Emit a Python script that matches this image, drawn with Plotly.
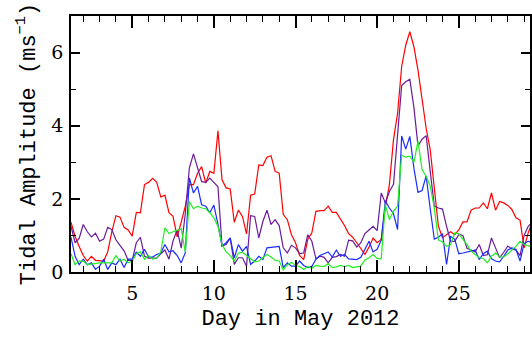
import plotly.graph_objects as go

# Sampling: every 0.25 day starting at day 1.25
day_start = 1.25
day_step = 0.25

red = [1.36, 0.97, 0.7, 0.45, 0.3, 0.43, 0.32, 0.3, 0.3, 0.55, 1.1, 1.54, 1.5, 1.22, 1.15, 0.98,
       1.63, 1.62, 2.39, 2.45, 2.56, 2.45, 2.05, 2.1, 1.62, 1.52, 0.96, 1.36, 1.8, 2.39, 2.39, 2.7,
       2.88, 2.43, 2.75, 2.7, 3.86, 2.52, 2.3, 2.27, 1.36, 1.69, 1.52, 1.04, 2.1, 2.13, 2.93, 2.91,
       3.14, 3.18, 2.75, 2.7, 1.57, 1.43, 1.02, 0.8, 0.45, 0.34, 0.89, 1.07, 1.66, 1.68, 1.68, 1.8,
       1.63, 1.63, 1.46, 1.27, 1.05, 0.95, 0.8, 0.65, 0.48, 0.68, 0.93, 0.8, 0.89, 1.78, 2.39, 3.62,
       4.34, 5.62, 6.2, 6.57, 6.16, 5.52, 4.71, 3.93, 3.34, 2.2, 1.25, 0.94, 1.02, 1.1, 1.02, 1.15,
       1.37, 1.37, 1.69, 1.75, 1.75, 1.89, 1.73, 2.16, 1.69, 1.93, 1.89, 1.82, 1.71, 1.48, 1.42, 0.66,
       1.07, 1.37]

purple = [1.25, 0.8, 0.92, 1.3, 1.1, 0.96, 1.06, 0.84, 0.9, 1.22, 1.16, 0.88, 0.73, 0.58, 0.32, 0.32,
          0.8, 0.95, 0.43, 0.38, 0.38, 0.38, 0.5, 0.6, 0.35, 0.85, 1.15, 0.65, 1.6, 2.85, 3.23, 2.84,
          2.47, 2.45, 2.57, 2.45, 2.33, 0.71, 0.75, 0.93, 0.21, 0.39, 0.39, 0.16, 1.54, 1.52, 0.93, 1.38,
          1.69, 1.3, 1.43, 1.27, 0.66, 0.52, 0.73, 0.66, 0.5, 0.52, 1.02, 0.84, 0.36, 0.43, 0.4, 0.25,
          0.4, 0.42, 0.48, 0.43, 0.87, 0.85, 0.68, 0.8, 1.05, 1.15, 1.25, 1.13, 2.16, 1.89, 2.2, 2.4,
          3.7, 5.1, 5.2, 5.27, 4.5, 3.45, 3.63, 3.73, 2.75, 1.8, 1.75, 1.72, 1.25, 0.84, 0.84, 1.03,
          1.0, 0.65, 0.6, 0.55, 0.75, 0.45, 0.47, 0.93, 0.66, 0.39, 0.54, 0.71, 0.63, 0.6, 0.45, 1.0,
          1.25, 1.35]

blue = [0.95, 0.43, 0.2, 0.35, 0.2, 0.25, 0.07, 0.16, 0.35, 0.07, 0.25, 0.2, 0.35, 0.12, 0.35, 0.35,
        0.54, 0.43, 0.62, 0.41, 0.41, 0.48, 0.52, 0.75, 0.55, 0.58, 0.45, 0.25, 0.53, 2.57, 2.16, 2.34,
        1.84, 1.8, 1.62, 1.83, 1.3, 0.71, 0.8, 0.93, 0.39, 0.75, 0.57, 0.7, 0.21, 0.3, 0.43, 0.34,
        0.66, 0.68, 0.68, 0.7, 0.12, 0.25, 0.16, 0.16, 0.3, 0.18, 0.12, 0.15, 0.35, 0.45, 0.5, 0.55,
        0.41, 0.6, 0.43, 0.48, 0.36, 0.34, 0.34, 0.4, 0.62, 0.84, 0.55, 0.62, 0.87, 1.95, 1.75, 1.6,
        1.16, 3.72, 3.36, 3.71, 2.84, 2.18, 2.23, 2.63, 1.73, 0.9, 0.95, 1.05, 0.21, 0.97, 0.9, 0.5,
        0.52, 0.55, 0.57, 0.6, 0.34, 0.5, 0.57, 0.36, 0.3, 0.28, 0.43, 0.6, 0.66, 0.62, 0.3, 0.78,
        0.84, 0.8]

green = [0.5, 0.2, 0.3, 0.3, 0.2, 0.22, 0.25, 0.25, 0.25, 0.25, 0.25, 0.45, 0.3, 0.35, 0.25, 0.3,
         0.5, 0.55, 0.35, 0.45, 0.35, 0.38, 0.55, 1.21, 1.05, 1.1, 1.15, 1.18, 0.54, 1.93, 1.73, 1.8,
         1.75, 1.73, 1.62, 1.48, 1.25, 0.75, 0.55, 0.45, 0.3, 0.52, 0.54, 0.45, 0.35, 0.28, 0.3, 0.39,
         0.48, 0.41, 0.32, 0.3, 0.06, 0.2, 0.27, 0.18, 0.15, 0.07, 0.15, 0.1, 0.18, 0.16, 0.15, 0.23,
         0.12, 0.14, 0.18, 0.15, 0.18, 0.12, 0.14, 0.16, 0.33, 0.39, 0.48, 0.37, 0.36, 1.85, 1.43, 1.66,
         1.8, 3.2, 3.14, 3.17, 3.0, 3.57, 2.8, 2.62, 2.35, 1.75, 0.87, 0.82, 0.7, 0.75, 1.07, 1.05,
         0.89, 0.75, 0.57, 0.48, 0.39, 0.37, 0.25, 0.43, 0.52, 0.41, 0.41, 0.5, 0.6, 0.7, 0.84, 0.75,
         0.72, 0.66]

days = [day_start + day_step * i for i in range(len(red))]

series = [
    ("red", red, "#ff0000"),
    ("purple", purple, "#6a1b9a"),
    ("blue", blue, "#1a2cff"),
    ("green", green, "#22ee22"),
]

fig = go.Figure()
for name, vals, col in series:
    fig.add_trace(go.Scatter(x=days, y=vals, mode="lines", name=name,
                             line=dict(color=col, width=1.2), showlegend=False))

tickfont = dict(family="DejaVu Serif", size=19, color="black")
titlefont = dict(family="Liberation Mono", size=22, color="black")

fig.update_layout(
    width=532, height=340,
    margin=dict(l=71, r=0, t=16, b=68),
    paper_bgcolor="white", plot_bgcolor="white",
    xaxis=dict(
        range=[1.25, 29.36], tickmode="linear", tick0=0, dtick=5,
        ticks="inside", ticklen=12, tickwidth=1.5, tickcolor="black",
        minor=dict(ticks="inside", dtick=1, tick0=0, ticklen=6, tickwidth=1.3, tickcolor="black"),
        showline=True, linewidth=1.8, linecolor="black", mirror="allticks",
        showgrid=False, zeroline=False, tickfont=tickfont, ticklabelstandoff=3,
        title=dict(text="Day in May 2012", font=titlefont, standoff=7),
    ),
    yaxis=dict(
        range=[0, 7], tickmode="linear", tick0=0, dtick=2,
        ticks="inside", ticklen=9, tickwidth=1.5, tickcolor="black",
        minor=dict(ticks="inside", dtick=1, tick0=0, ticklen=5, tickwidth=1.3, tickcolor="black"),
        showline=True, linewidth=1.8, linecolor="black", mirror="allticks",
        showgrid=False, zeroline=False, tickfont=tickfont, ticklabelstandoff=2,
        title=dict(text="Tidal Amplitude (ms<sup>\u22121</sup>)", font=titlefont, standoff=10),
    ),
)

fig.write_html("out.html")
